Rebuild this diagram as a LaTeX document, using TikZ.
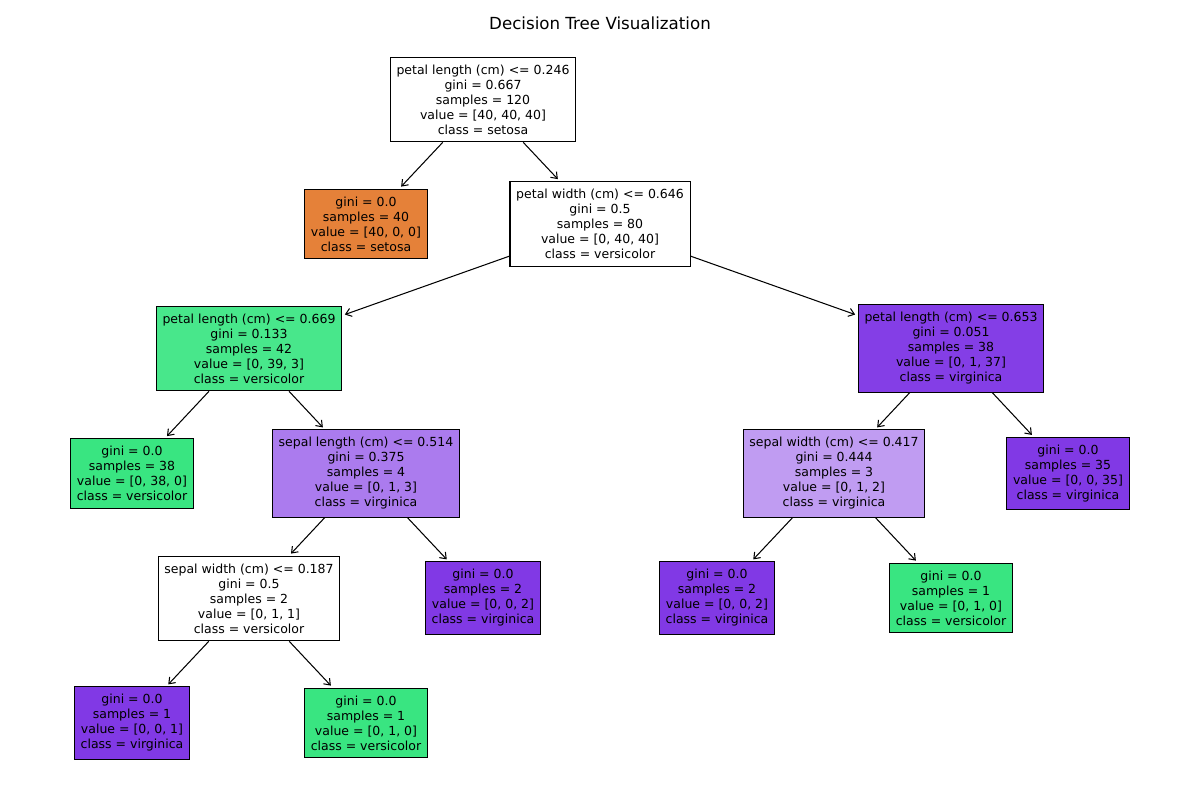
\documentclass[tikz,border=0pt]{standalone}
\usepackage{fontspec}
\setmainfont{DejaVu Sans}
\usetikzlibrary{arrows.meta}
\definecolor{setosa}{RGB}{229,129,57}
\definecolor{versi}{RGB}{57,229,129}
\definecolor{virgi}{RGB}{129,57,229}
\definecolor{versiA}{RGB}{72,231,139}
\definecolor{virgiA}{RGB}{132,62,230}
\definecolor{virgiB}{RGB}{171,123,238}
\definecolor{virgiC}{RGB}{192,156,242}

\begin{document}
\begin{tikzpicture}[x=0.72pt,y=-0.72pt,
      box/.style={
        draw, line width=0.75pt, align=center,
        font=\fontsize{9}{10.8}\selectfont,
        inner xsep=4.5pt, inner ysep=5.4pt
      },
      edge/.style={
        -{Straight Barb[length=4pt,width=6pt]},
        line width=0.75pt, shorten >=2pt
      }
    ]
      \useasboundingbox (0,0) rectangle (1200,800);
      \node[font=\fontsize{12}{14}\selectfont] (title) at (600,23){Decision Tree Visualization};

      \node[box] (n0) at (483,99.5){petal length (cm) <= 0.246\\gini = 0.667\\samples = 120\\value = [40, 40, 40]\\class = setosa};
      \node[box, fill=setosa] (n1) at (366,224){gini = 0.0\\samples = 40\\value = [40, 0, 0]\\class = setosa};
      \node[box] (n2) at (600,224){petal width (cm) <= 0.646\\gini = 0.5\\samples = 80\\value = [0, 40, 40]\\class = versicolor};
      \node[box, fill=versiA] (n3) at (249,348.5){petal length (cm) <= 0.669\\gini = 0.133\\samples = 42\\value = [0, 39, 3]\\class = versicolor};
      \node[box, fill=versi] (n4) at (132,473.5){gini = 0.0\\samples = 38\\value = [0, 38, 0]\\class = versicolor};
      \node[box, fill=virgiB] (n5) at (366,473.5){sepal length (cm) <= 0.514\\gini = 0.375\\samples = 4\\value = [0, 1, 3]\\class = virginica};
      \node[box] (n6) at (249,598.5){sepal width (cm) <= 0.187\\gini = 0.5\\samples = 2\\value = [0, 1, 1]\\class = versicolor};
      \node[box, fill=virgi] (n7) at (132,723){gini = 0.0\\samples = 1\\value = [0, 0, 1]\\class = virginica};
      \node[box, fill=versi] (n8) at (366,723){gini = 0.0\\samples = 1\\value = [0, 1, 0]\\class = versicolor};
      \node[box, fill=virgi] (n9) at (483,598){gini = 0.0\\samples = 2\\value = [0, 0, 2]\\class = virginica};
      \node[box, fill=virgiA] (n10) at (951,348.5){petal length (cm) <= 0.653\\gini = 0.051\\samples = 38\\value = [0, 1, 37]\\class = virginica};
      \node[box, fill=virgiC] (n11) at (834,473.5){sepal width (cm) <= 0.417\\gini = 0.444\\samples = 3\\value = [0, 1, 2]\\class = virginica};
      \node[box, fill=virgi] (n12) at (717,598){gini = 0.0\\samples = 2\\value = [0, 0, 2]\\class = virginica};
      \node[box, fill=versi] (n13) at (951,598){gini = 0.0\\samples = 1\\value = [0, 1, 0]\\class = versicolor};
      \node[box, fill=virgi] (n14) at (1068,473.5){gini = 0.0\\samples = 35\\value = [0, 0, 35]\\class = virginica};

      \foreach \a/\b in {n0/n1,n0/n2,n2/n3,n2/n10,n3/n4,n3/n5,n5/n6,n5/n9,
                         n6/n7,n6/n8,n10/n11,n10/n14,n11/n12,n11/n13} {
        \draw[edge] (\a) -- (\b);
      }
    \end{tikzpicture}
\end{document}
